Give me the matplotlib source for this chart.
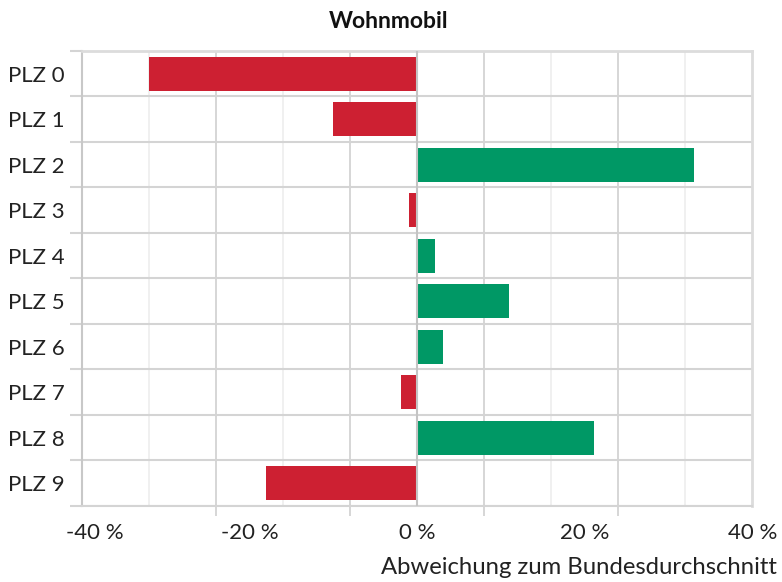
import numpy as np
import matplotlib
matplotlib.use("Agg")
import matplotlib.pyplot as plt
from matplotlib.transforms import ScaledTranslation

plt.rcParams['font.family'] = ['Lato', 'DejaVu Sans']

title = "Wohnmobil"
categories = ["PLZ 0", "PLZ 1", "PLZ 2", "PLZ 3", "PLZ 4",
              "PLZ 5", "PLZ 6", "PLZ 7", "PLZ 8", "PLZ 9"]
values = [-32.0, -10.0, 33.1, -0.9, 2.1, 11.0, 3.1, -1.95, 21.1, -18.0]
xtick_values = [-40, -20, 0, 20, 40]
xtick_labels = ["-40 %", "-20 %", "0 %", "20 %", "40 %"]
xlabel = "Abweichung zum Bundesdurchschnitt"

red = "#CD2032"
green = "#009865"

fig = plt.figure(figsize=(7.82, 5.82), dpi=100)
ax = fig.add_axes([81.7 / 782, 1 - 506 / 582, (752.3 - 81.7) / 782, (506 - 51) / 582])

y = np.arange(len(categories))
colors = [green if v > 0 else red for v in values]

# light gridlines
for gx in np.arange(-32, 33, 16):
    ax.axvline(gx, color="#EDEDED", lw=1.2, zorder=0)
ax.axvline(0, color="#C4C4C4", lw=1.5, zorder=3)

ax.barh(y, values, height=0.74, color=colors, zorder=2)

ax.set_xlim(-40, 40)
ax.set_ylim(len(categories) - 0.5, -0.5)

ax.set_xticks(xtick_values)
ax.set_xticklabels(xtick_labels, fontsize=16, color="#222222")
ax.set_xticks(np.arange(-40, 41, 16), minor=True)
ax.tick_params(axis="x", which="major", length=0, pad=12)
ax.tick_params(axis="x", which="minor", length=7, width=1.2, color="#D0D0D0")
ax.grid(axis="x", which="minor", color="#D0D0D0", lw=1.2, zorder=1)

ax.set_yticks(y)
ax.set_yticklabels(categories, fontsize=16, color="#222222")
ax.set_yticks(np.arange(-0.5, len(categories), 1), minor=True)
ax.tick_params(axis="y", which="major", length=0, pad=12)
ax.tick_params(axis="y", which="minor", length=9, width=1.5, color="#D4D4D4")
ax.grid(axis="y", which="minor", color="#D4D4D4", lw=1.5, zorder=1)

for lab in ax.get_xticklabels():
    if lab.get_text().startswith("-40"):
        lab.set_transform(lab.get_transform() + ScaledTranslation(13 / 100, 0, fig.dpi_scale_trans))

ax.spines["left"].set_color("#C8C8C8")
ax.spines["left"].set_linewidth(1.5)
ax.spines["top"].set_color("#DCDCDC")
ax.spines["top"].set_linewidth(2)
ax.spines["right"].set_color("#DCDCDC")
ax.spines["right"].set_linewidth(2)
ax.spines["bottom"].set_color("#D4D4D4")
ax.spines["bottom"].set_linewidth(1.5)

fig.text(389 / 782, 1 - 21 / 582, title, ha="center", va="center",
         fontsize=16.5, fontweight="bold", color="#111111")
fig.text(777 / 782, 1 - 568 / 582, xlabel, ha="right", va="center",
         fontsize=17.2, color="#222222")

fig.savefig("out.png", dpi=100)
